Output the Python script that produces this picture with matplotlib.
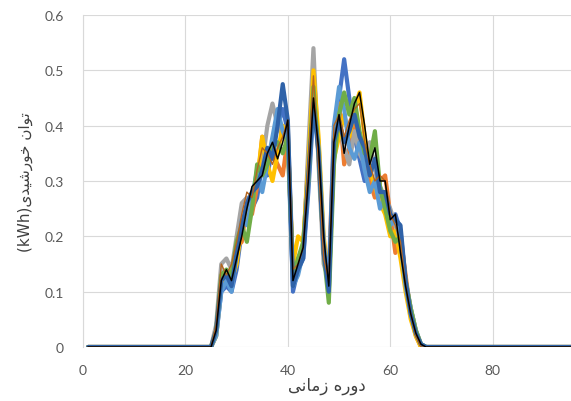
import matplotlib.pyplot as plt

# periods 1..96, sun only between 25 and 67
days_x = list(range(25, 68))
x_all = list(range(1, 97))

blue = [0, 0.02, 0.10, 0.11, 0.10, 0.14, 0.21, 0.24, 0.25, 0.27, 0.33, 0.31, 0.36, 0.40, 0.43, 0.39, 0.10,
        0.14, 0.16, 0.28, 0.43, 0.37, 0.18, 0.10, 0.38, 0.45, 0.52, 0.45, 0.38, 0.34, 0.30, 0.36, 0.33, 0.27,
        0.25, 0.21, 0.24, 0.21, 0.12, 0.07, 0.03, 0.005, 0]
orange = [0, 0.03, 0.13, 0.12, 0.13, 0.18, 0.19, 0.26, 0.24, 0.29, 0.38, 0.34, 0.35, 0.33, 0.31, 0.38, 0.13,
          0.16, 0.18, 0.34, 0.51, 0.34, 0.17, 0.13, 0.39, 0.44, 0.33, 0.36, 0.40, 0.38, 0.33, 0.30, 0.27, 0.30,
          0.31, 0.24, 0.17, 0.20, 0.13, 0.06, 0.02, 0, 0]
gray = [0, 0.04, 0.15, 0.16, 0.14, 0.20, 0.26, 0.27, 0.26, 0.31, 0.33, 0.40, 0.44, 0.40, 0.38, 0.40, 0.14,
        0.15, 0.17, 0.36, 0.54, 0.33, 0.15, 0.12, 0.35, 0.40, 0.36, 0.33, 0.39, 0.35, 0.33, 0.37, 0.32, 0.29,
        0.27, 0.25, 0.22, 0.19, 0.12, 0.07, 0.03, 0.005, 0]
yellow = [0, 0.02, 0.11, 0.13, 0.12, 0.15, 0.22, 0.24, 0.27, 0.30, 0.38, 0.33, 0.30, 0.35, 0.40, 0.36, 0.15,
          0.20, 0.19, 0.33, 0.50, 0.38, 0.20, 0.12, 0.34, 0.38, 0.42, 0.38, 0.43, 0.46, 0.38, 0.32, 0.29, 0.26,
          0.24, 0.20, 0.21, 0.16, 0.10, 0.05, 0.02, 0, 0]
light_blue = [0, 0.02, 0.10, 0.12, 0.10, 0.17, 0.23, 0.22, 0.27, 0.32, 0.28, 0.33, 0.38, 0.43, 0.39, 0.37, 0.11,
              0.13, 0.17, 0.30, 0.44, 0.36, 0.19, 0.11, 0.40, 0.47, 0.43, 0.36, 0.34, 0.37, 0.32, 0.28, 0.30, 0.25,
              0.27, 0.22, 0.23, 0.19, 0.11, 0.06, 0.025, 0.005, 0]
green = [0, 0.03, 0.13, 0.14, 0.13, 0.19, 0.22, 0.19, 0.25, 0.33, 0.31, 0.33, 0.36, 0.37, 0.35, 0.38, 0.13,
         0.16, 0.19, 0.30, 0.47, 0.35, 0.17, 0.08, 0.33, 0.42, 0.46, 0.42, 0.45, 0.39, 0.35, 0.34, 0.39, 0.29,
         0.25, 0.21, 0.19, 0.20, 0.12, 0.07, 0.03, 0.005, 0]
dark_blue = [0, 0.03, 0.12, 0.13, 0.11, 0.17, 0.22, 0.26, 0.28, 0.29, 0.32, 0.36, 0.34, 0.40, 0.475, 0.41, 0.11,
             0.14, 0.16, 0.31, 0.44, 0.35, 0.17, 0.10, 0.37, 0.41, 0.37, 0.39, 0.42, 0.38, 0.36, 0.31, 0.34, 0.28,
             0.28, 0.24, 0.23, 0.22, 0.12, 0.06, 0.025, 0.005, 0]
brown = [0, 0.04, 0.15, 0.13, 0.15, 0.19, 0.24, 0.28, 0.27, 0.32, 0.36, 0.35, 0.33, 0.36, 0.38, 0.41, 0.14,
         0.15, 0.18, 0.33, 0.49, 0.33, 0.16, 0.12, 0.40, 0.42, 0.38, 0.41, 0.43, 0.44, 0.37, 0.33, 0.30, 0.31,
         0.30, 0.24, 0.22, 0.19, 0.11, 0.06, 0.02, 0, 0]
mean_line = [0, 0.03, 0.12, 0.14, 0.12, 0.16, 0.20, 0.25, 0.29, 0.30, 0.31, 0.35, 0.37, 0.34, 0.37, 0.41, 0.12,
             0.15, 0.18, 0.30, 0.45, 0.36, 0.20, 0.11, 0.37, 0.42, 0.35, 0.40, 0.44, 0.46, 0.40, 0.33, 0.36, 0.30,
             0.30, 0.23, 0.24, 0.17, 0.11, 0.06, 0.025, 0.005, 0]

x_ticks = [0, 20, 40, 60, 80]
y_ticks = [0, 0.1, 0.2, 0.3, 0.4, 0.5, 0.6]

# persian labels, pre-shaped (presentation forms, visual order)
xlabel = "\uFEF0\uFEE7\uFE8E\uFEE3\uFEAF \uFEE9\uFEAD\uFEED\uFEA9"
ylabel = "(kWh)\uFEEF\uFEAA\uFEF4\uFEB7\uFEAD\uFEEE\uFEA7 \uFEE5\uFE8D\uFEEE\uFE97"


def full(vals):
    return [0] * 24 + vals + [0] * (96 - 67)


plt.rcParams['font.family'] = ['Lato', 'DejaVu Sans']

fig = plt.figure(figsize=(5.71, 4.02), dpi=100)
ax = fig.add_axes([0.1454, 0.1343, 0.8546, 0.826])

thick = [(blue, '#4472C4'), (orange, '#ED7D31'), (gray, '#A5A5A5'), (yellow, '#FFC000'),
         (light_blue, '#5B9BD5'), (green, '#70AD47'), (dark_blue, '#2F62A8')]
for vals, col in thick:
    ax.plot(x_all, full(vals), color=col, lw=3.0, solid_capstyle='round', solid_joinstyle='round')
ax.plot(x_all, full(brown), color='#B5651D', lw=1.0)
ax.plot(x_all, full(mean_line), color='black', lw=1.1, solid_joinstyle='round')

ax.set_xlim(0, 95.3)
ax.set_ylim(0, 0.6)
ax.set_xticks(x_ticks)
ax.set_yticks(y_ticks)
ax.set_yticklabels(['0', '0.1', '0.2', '0.3', '0.4', '0.5', '0.6'])
ax.grid(True, color='#D9D9D9', lw=0.8)
ax.set_axisbelow(True)
for s in ['top', 'right', 'bottom']:
    ax.spines[s].set_visible(False)
ax.spines['left'].set_color('#D9D9D9')
ax.tick_params(length=0, colors='#595959', labelsize=10)
ax.tick_params(axis='x', pad=12)
ax.tick_params(axis='y', pad=14)

ax.set_xlabel(xlabel, family=['DejaVu Sans'], fontsize=12, color='#404040', labelpad=0)
ax.set_ylabel(ylabel, family=['DejaVu Sans'], fontsize=11, color='#404040', labelpad=8)

fig.savefig('out.png', dpi=100)
